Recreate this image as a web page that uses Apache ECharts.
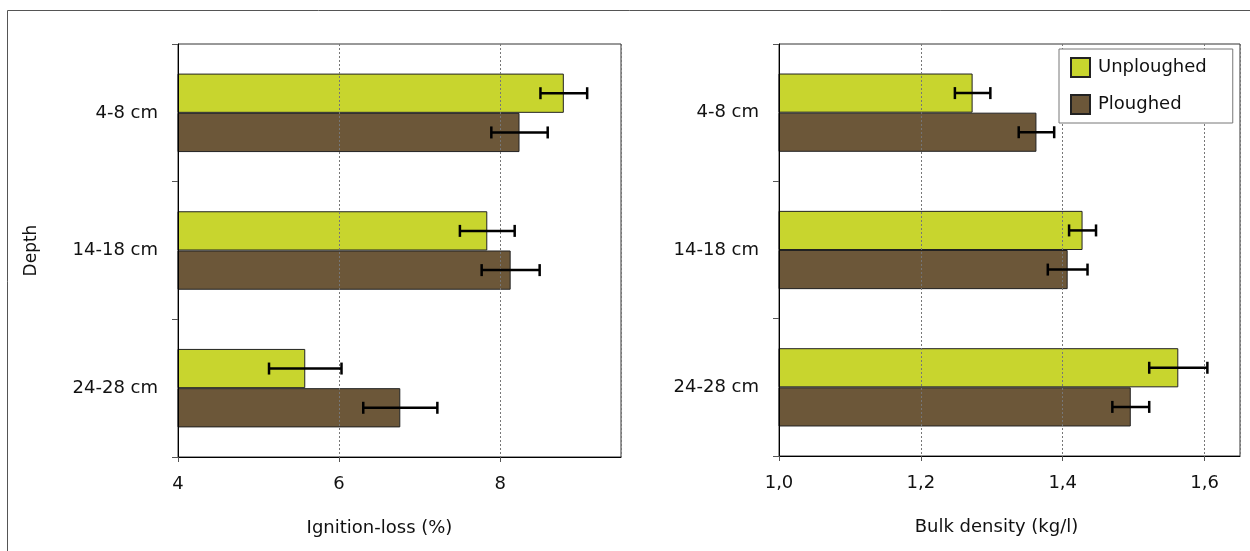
<!DOCTYPE html>
<html>
<head>
<meta charset="utf-8">
<script src="https://cdn.jsdelivr.net/npm/echarts@6/dist/echarts.min.js"></script>
<style>
  html, body { margin: 0; padding: 0; background: #fff; }
  #chart { width: 1250px; height: 551px; }
</style>
</head>
<body>
<div id="chart"></div>
<script>
// Sampling depths (top to bottom)
const depths = ['4-8 cm', '14-18 cm', '24-28 cm'];
const seriesNames = ['Unploughed', 'Ploughed'];

// Ignition-loss (%) means and error half-widths
const ignitionUnploughed = [8.79, 7.84, 5.58];
const ignitionUnploughedErr = [0.29, 0.34, 0.45];
const ignitionPloughed = [8.24, 8.13, 6.76];
const ignitionPloughedErr = [0.35, 0.36, 0.46];

// Bulk density (kg/l) means and error half-widths
const densityUnploughed = [1.273, 1.428, 1.563];
const densityUnploughedErr = [0.025, 0.019, 0.041];
const densityPloughed = [1.363, 1.407, 1.496];
const densityPloughedErr = [0.025, 0.028, 0.026];

// Axis ranges
const ignitionTicks = { min: 4, max: 9.5, interval: 2 };
const densityTicks = { min: 1.0, max: 1.65, interval: 0.2 };

const COLOR_UNPLOUGHED = '#c8d52e';
const COLOR_PLOUGHED = '#6c5739';
const FONT = 'DejaVu Sans';
const CAT_GAP = 0.43;

const chart = echarts.init(document.getElementById('chart'), null, { renderer: 'canvas' });

function errData(means, errs) {
  return means.map((m, i) => [i, m, errs[i]]);
}

// Whisker drawn at the bar's centre; side = -1 upper bar, +1 lower bar
function errorBarSeries(name, xi, yi, means, errs, side) {
  return {
    type: 'custom',
    name: name + ' error',
    xAxisIndex: xi,
    yAxisIndex: yi,
    z: 6,
    silent: true,
    encode: { x: 1, y: 0 },
    data: errData(means, errs),
    renderItem: function (params, api) {
      const cat = api.value(0);
      const mean = api.value(1);
      const err = api.value(2);
      const band = api.size([0, 1])[1];
      const bw = band * (1 - CAT_GAP) / 2;
      const lo = api.coord([mean - err, cat]);
      const hi = api.coord([mean + err, cat]);
      const y = lo[1] + side * bw / 2;
      const cap = 6;
      const style = { stroke: '#000', lineWidth: 2.5 };
      return {
        type: 'group',
        children: [
          { type: 'line', shape: { x1: lo[0], y1: y, x2: hi[0], y2: y }, style: style },
          { type: 'line', shape: { x1: lo[0], y1: y - cap, x2: lo[0], y2: y + cap }, style: style },
          { type: 'line', shape: { x1: hi[0], y1: y - cap, x2: hi[0], y2: y + cap }, style: style }
        ]
      };
    }
  };
}

function valueAxis(gridIndex, ticks, name, fmt, namePad) {
  return {
    type: 'value',
    gridIndex: gridIndex,
    min: ticks.min,
    max: ticks.max,
    interval: ticks.interval,
    z: 3,
    name: name,
    nameLocation: 'middle',
    nameGap: 62,
    nameTextStyle: { fontFamily: FONT, fontSize: 18, color: '#111', padding: namePad },
    axisLine: { show: true, lineStyle: { color: '#000', width: 1 } },
    axisTick: { show: true, inside: false, length: 5, lineStyle: { color: '#555' } },
    axisLabel: {
      show: true, margin: 18, showMaxLabel: false,
      fontFamily: FONT, fontSize: 18, color: '#111',
      formatter: fmt
    },
    splitLine: { show: true, lineStyle: { color: '#777', type: [2, 2], width: 1 } }
  };
}

function categoryAxis(gridIndex, withName) {
  return {
    type: 'category',
    gridIndex: gridIndex,
    data: depths,
    inverse: true,
    z: 3,
    name: withName ? 'Depth' : '',
    nameLocation: 'middle',
    nameGap: 138,
    nameRotate: 90,
    nameTextStyle: { fontFamily: FONT, fontSize: 17, color: '#111' },
    axisLine: { show: true, lineStyle: { color: '#000', width: 1 } },
    axisTick: { show: true, inside: false, length: 6, alignWithLabel: false, lineStyle: { color: '#555' } },
    axisLabel: { margin: 20, fontFamily: FONT, fontSize: 18, color: '#111' },
    splitLine: { show: false }
  };
}

function barSeries(name, color, xi, yi, values) {
  return {
    type: 'bar',
    name: name,
    xAxisIndex: xi,
    yAxisIndex: yi,
    data: values,
    barGap: '0%',
    barCategoryGap: (CAT_GAP * 100) + '%',
    itemStyle: { color: color, borderColor: '#222', borderWidth: 1 },
    emphasis: { disabled: true }
  };
}

const ignitionFmt = v => (v % ignitionTicks.interval === 0 ? String(v) : '');
const densityFmt = v => (Math.abs(Math.round(v * 10) - v * 10) < 1e-6 ? v.toFixed(1).replace('.', ',') : '');

const option = {
  animation: false,
  backgroundColor: '#fff',
  grid: [
    { left: 178, right: 629, top: 44, bottom: 94, show: true, borderColor: '#333', borderWidth: 1, backgroundColor: 'transparent' },
    { left: 779, right: 10, top: 44, bottom: 95, show: true, borderColor: '#333', borderWidth: 1, backgroundColor: 'transparent' }
  ],
  legend: {
    data: seriesNames,
    orient: 'vertical',
    left: 1059,
    top: 49,
    z: 10,
    padding: [8, 26, 8, 11],
    itemGap: 16,
    itemWidth: 19,
    itemHeight: 19,
    backgroundColor: '#fff',
    borderColor: '#777',
    borderWidth: 1,
    borderRadius: 0,
    icon: 'rect',
    textStyle: { fontFamily: FONT, fontSize: 18, color: '#111', padding: [0, 0, 0, 3] }
  },
  xAxis: [
    valueAxis(0, ignitionTicks, 'Ignition-loss (%)', ignitionFmt, [0, 40, 0, 0]),
    valueAxis(1, densityTicks, 'Bulk density (kg/l)', densityFmt, [0, 26, 0, 0])
  ],
  yAxis: [
    categoryAxis(0, true),
    categoryAxis(1, false)
  ],
  series: [
    barSeries('Unploughed', COLOR_UNPLOUGHED, 0, 0, ignitionUnploughed),
    barSeries('Ploughed', COLOR_PLOUGHED, 0, 0, ignitionPloughed),
    barSeries('Unploughed', COLOR_UNPLOUGHED, 1, 1, densityUnploughed),
    barSeries('Ploughed', COLOR_PLOUGHED, 1, 1, densityPloughed),
    errorBarSeries('Unploughed', 0, 0, ignitionUnploughed, ignitionUnploughedErr, -1),
    errorBarSeries('Ploughed', 0, 0, ignitionPloughed, ignitionPloughedErr, 1),
    errorBarSeries('Unploughed', 1, 1, densityUnploughed, densityUnploughedErr, -1),
    errorBarSeries('Ploughed', 1, 1, densityPloughed, densityPloughedErr, 1)
  ],
  graphic: [
    {
      type: 'rect',
      silent: true,
      z: 0,
      shape: { x: 7.5, y: 10.5, width: 1400, height: 700 },
      style: { fill: 'none', stroke: '#555', lineWidth: 1 }
    }
  ]
};

chart.setOption(option);
</script>
</body>
</html>
